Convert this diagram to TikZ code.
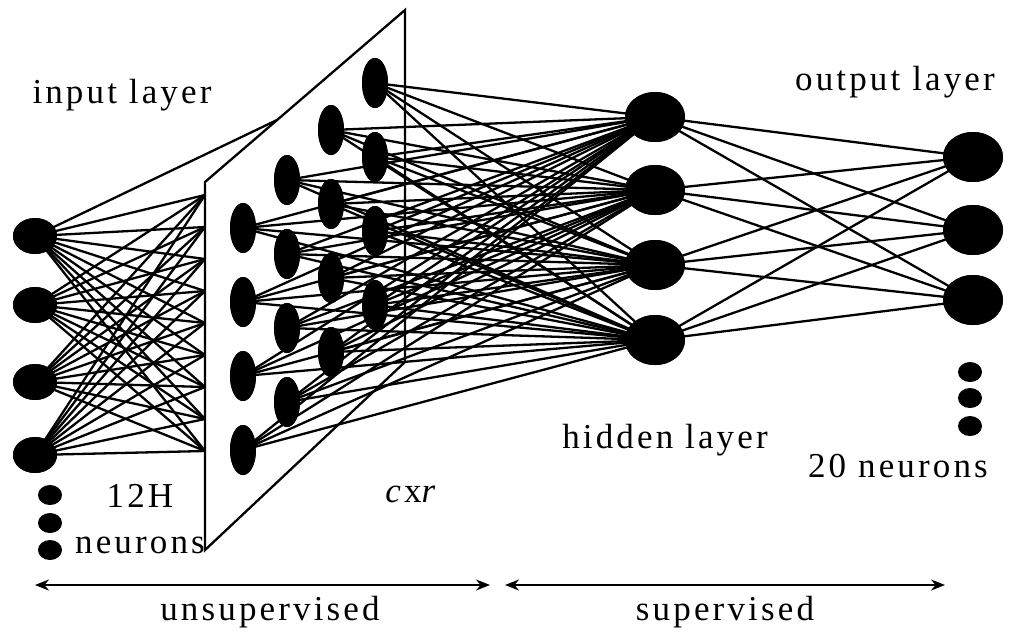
\documentclass[tikz,border=0pt]{standalone}
\usepackage{fontspec}
\setmainfont{Liberation Serif}[LetterSpace=9]
\usetikzlibrary{shapes.geometric,arrows.meta}
\begin{document}
\begin{tikzpicture}[x=1pt,y=-1pt,line width=2.3pt,
  inp/.style={ellipse,fill=black,minimum width=44pt,minimum height=36pt,inner sep=0pt},
  dot/.style={ellipse,fill=black,minimum width=24pt,minimum height=20pt,inner sep=0pt},
  grd/.style={ellipse,fill=black,minimum width=26pt,minimum height=50pt,inner sep=0pt},
  big/.style={ellipse,fill=black,minimum width=60pt,minimum height=50pt,inner sep=0pt},
  lbl/.style={font=\fontsize{35}{38}\selectfont,inner sep=0pt}]
\useasboundingbox (0,0) rectangle (1024,641);
% plane
\coordinate (p1) at (205,182); \coordinate (p2) at (405,10);
\coordinate (p3) at (405,362); \coordinate (p4) at (205,550);
\coordinate (ptop) at (277,120);
\draw[fill=white] (p1) -- (p2) -- (p3) -- (p4) -- cycle;
% input
\foreach \i/\y in {1/236,2/305,3/382,4/455} \node[inp] (i\i) at (35,\y) {};
\foreach \i/\y in {1/495,2/523,3/550} \node[dot] (d\i) at (50,\y) {};
% edge points
\foreach \k in {1,...,9} \coordinate (e\k) at (205,{195+(\k-1)*32});
\foreach \i in {1,...,4} \foreach \k in {1,...,9} \draw (i\i.center) -- (e\k);
\draw (i1.center) -- (ptop);
% grid
\foreach \c/\x/\y in {1/243/228,2/287/180,3/331/130,4/375/83}
  \foreach \r in {1,...,4} \node[grd] (g\c\r) at (\x,{\y+(\r-1)*74}) {};
% hidden
\foreach \i/\y in {1/117,2/190,3/265,4/340} \node[big] (h\i) at (655,\y) {};
% output
\foreach \i/\y in {1/157,2/230,3/300} \node[big] (o\i) at (973,\y) {};
\foreach \i/\y in {1/372,2/398,3/426} \node[dot] (od\i) at (970,\y) {};
\foreach \c in {1,...,4} \foreach \r in {1,...,4} \foreach \h in {1,...,4}
  \draw (g\c\r.center) -- (h\h.center);
\foreach \h in {1,...,4} \foreach \o in {1,2,3} \draw (h\h.center) -- (o\o.center);
% redraw node bodies on top of the connectors
\foreach \c/\x/\y in {1/243/228,2/287/180,3/331/130,4/375/83}
  \foreach \r in {1,...,4} \fill (\x,{\y+(\r-1)*74}) ellipse (13 and 25);
\foreach \y in {117,190,265,340} \fill (655,\y) ellipse (30 and 25);
\foreach \y in {157,230,300} \fill (973,\y) ellipse (30 and 25);
\foreach \y in {236,305,382,455} \fill (35,\y) ellipse (22 and 18);
% labels
\node[lbl] (tin) at (122,95) {input layer};
\node[lbl] (tout) at (895,82) {output layer};
\node[lbl] (thid) at (665,440) {hidden layer};
\node[lbl] (t20) at (898,466) {20 neurons};
\node[lbl] (t12) at (140,496) {12H};
\node[lbl] (tneu) at (140,545) {neurons};
\node[lbl] (tcxr) at (412,494) {\textit{c}x\textit{r}};
% arrows
\coordinate (a1) at (35,585); \coordinate (a2) at (490,585);
\coordinate (a3) at (505,585); \coordinate (a4) at (945,585);
\draw[line width=2pt,{Stealth[length=14pt,width=11pt]}-{Stealth[length=14pt,width=11pt]}] (a1) -- (a2);
\draw[line width=2pt,{Stealth[length=14pt,width=11pt]}-{Stealth[length=14pt,width=11pt]}] (a3) -- (a4);
\node[lbl] (tu) at (270,612) {unsupervised};
\node[lbl] (ts) at (725,612) {supervised};
\end{tikzpicture}
\end{document}
